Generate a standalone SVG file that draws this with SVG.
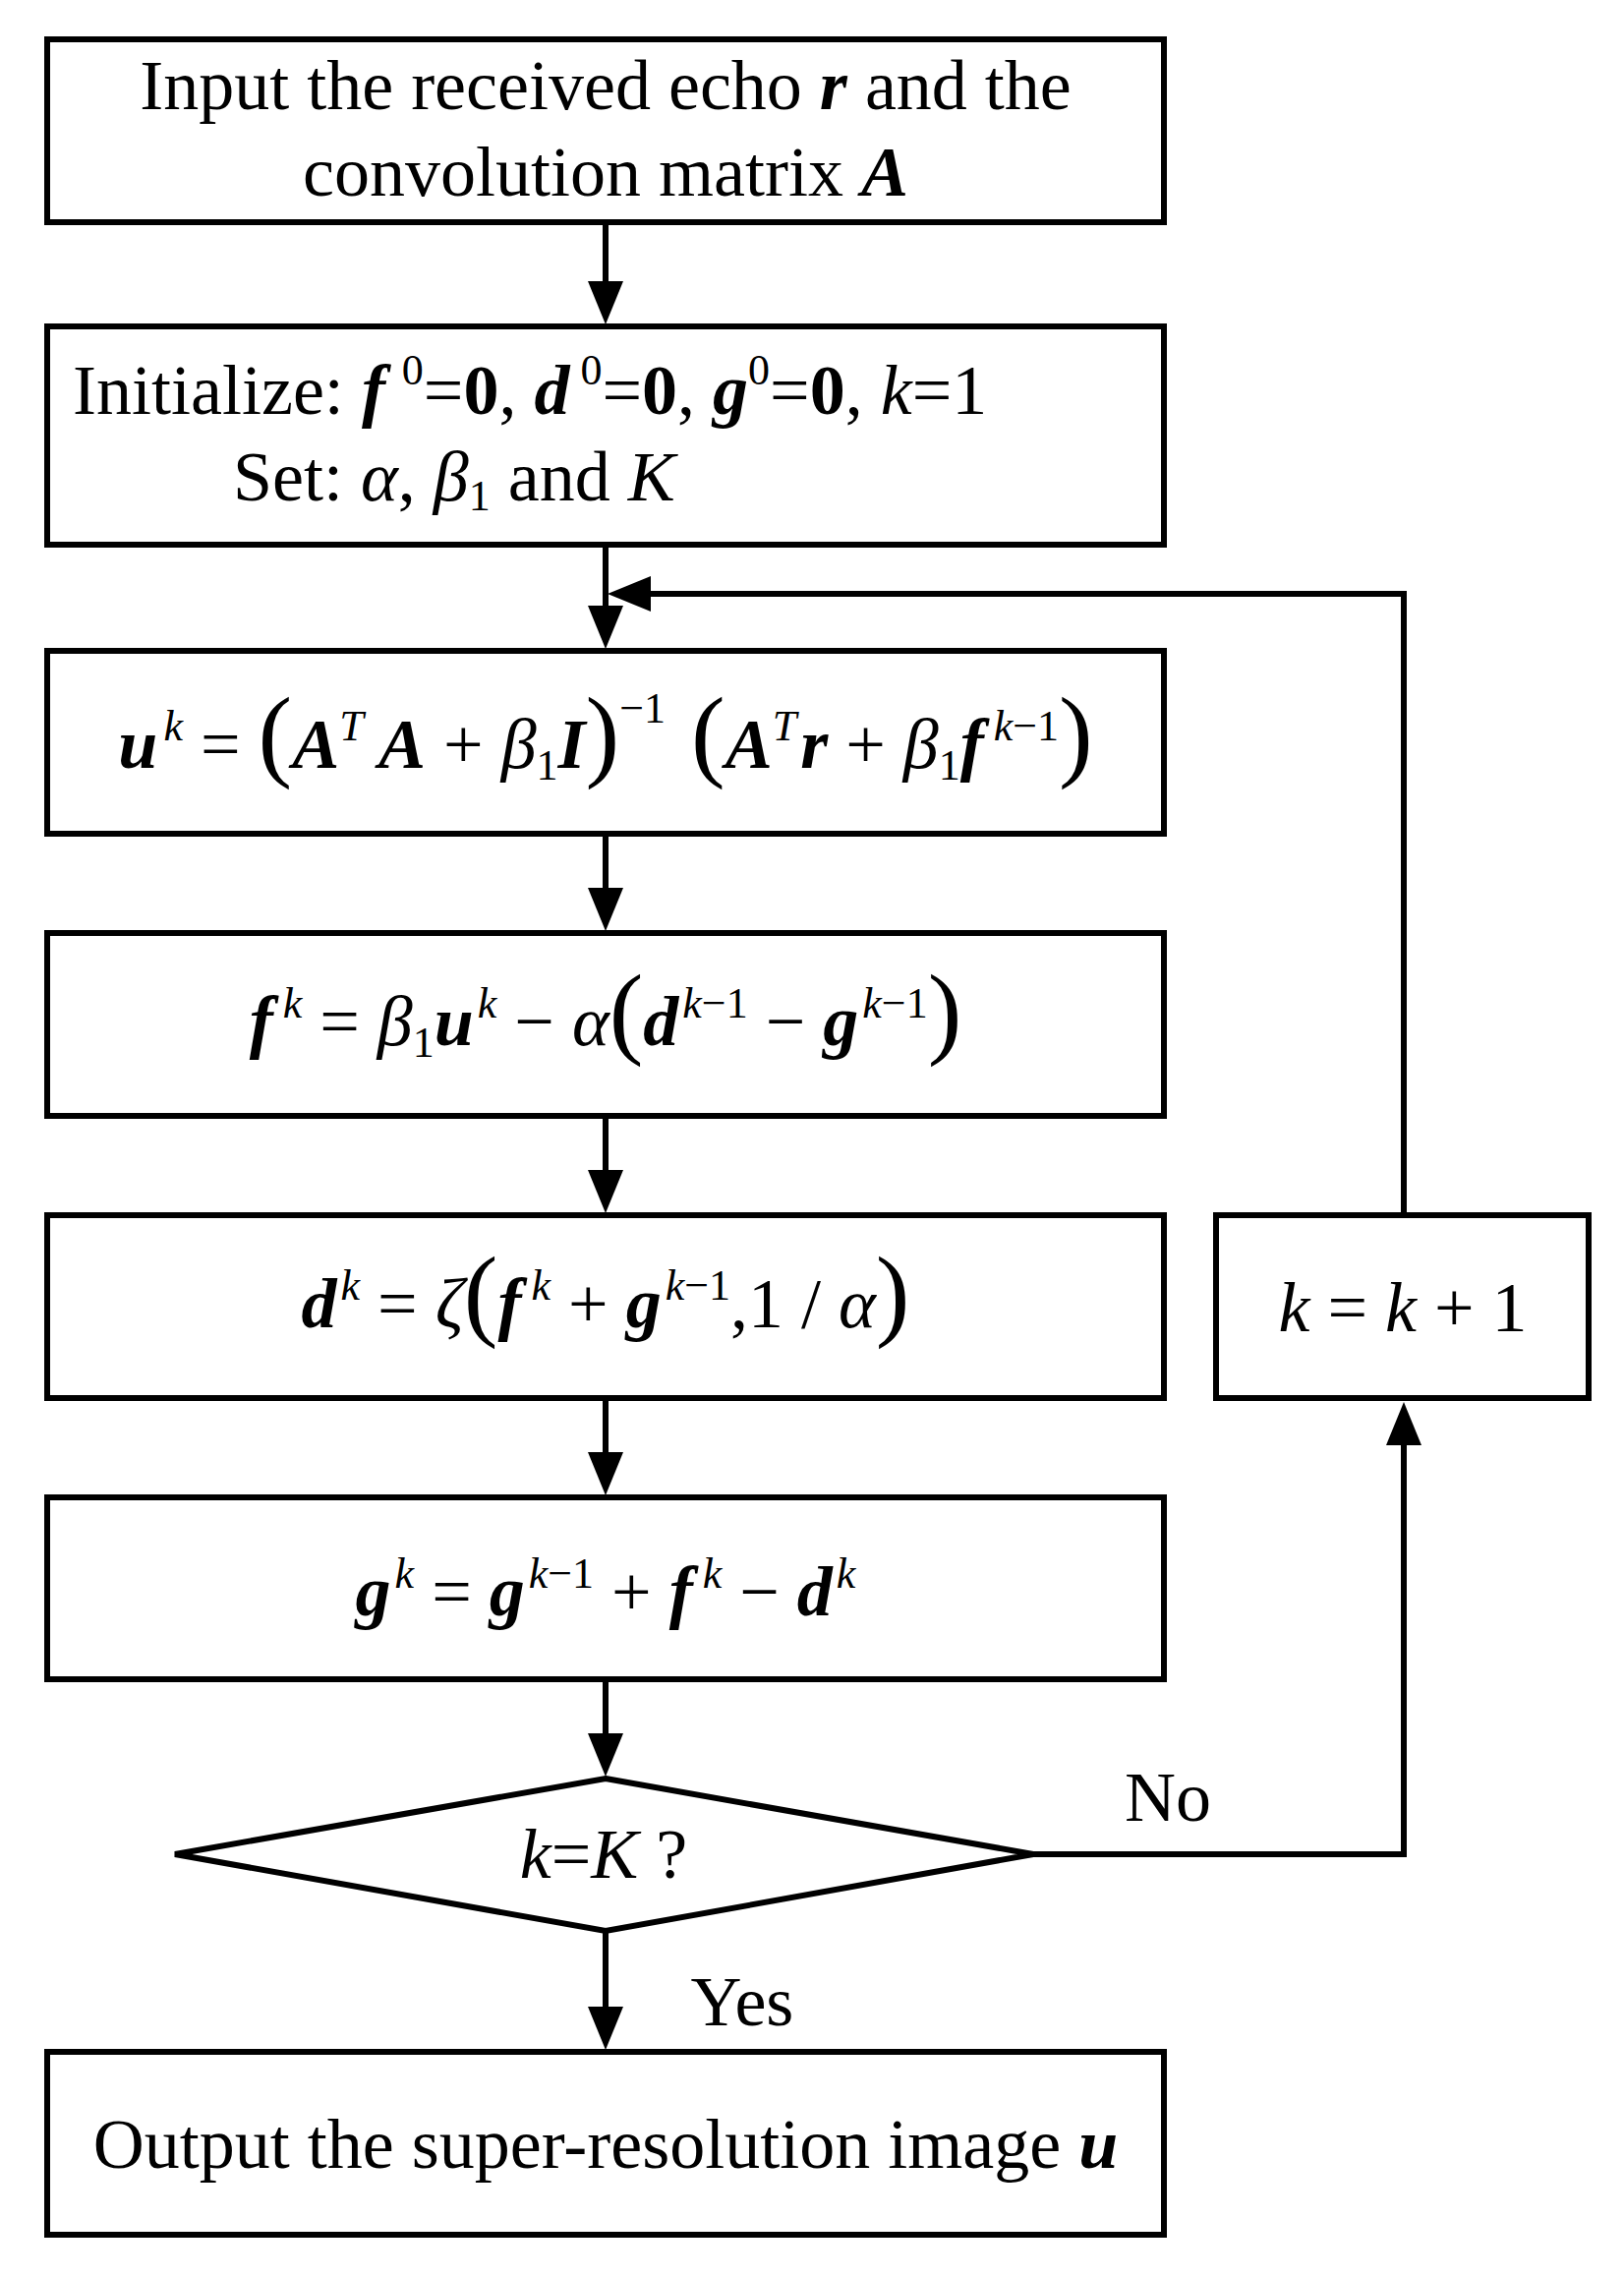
<svg xmlns="http://www.w3.org/2000/svg" width="1652" height="2316" viewBox="0 0 1652 2316">
<style>
.b{fill:#fff;stroke:#000;stroke-width:6}
.c{fill:none;stroke:#000;stroke-width:6}
text{font-family:"Liberation Serif","Times New Roman",serif;font-size:72px;fill:#000}
.t{text-anchor:middle}
.bi{font-weight:bold;font-style:italic}
.i{font-style:italic}
.b0{font-weight:bold}
.s{font-size:44px}
.p{font-size:104px}
</style>
<rect width="1652" height="2316" fill="#fff"/>
<g id="connectors">
<line class="c" x1="616" y1="226" x2="616" y2="288"/><path d="M598,286 L634,286 L616,330 z"/>
<line class="c" x1="616" y1="554" x2="616" y2="618"/><path d="M598,616 L634,616 L616,660 z"/>
<polyline class="c" points="1428,1236 1428,604 660,604"/><path d="M662,586 L662,622 L618,604 z"/>
<line class="c" x1="616" y1="848" x2="616" y2="905"/><path d="M598,903 L634,903 L616,947 z"/>
<line class="c" x1="616" y1="1135" x2="616" y2="1192"/><path d="M598,1190 L634,1190 L616,1234 z"/>
<line class="c" x1="616" y1="1422" x2="616" y2="1479"/><path d="M598,1477 L634,1477 L616,1521 z"/>
<line class="c" x1="616" y1="1708" x2="616" y2="1765"/><path d="M598,1763 L634,1763 L616,1807 z"/>
<polyline class="c" points="1051,1886 1428,1886 1428,1468"/><path d="M1410,1470 L1446,1470 L1428,1426 z"/>
<line class="c" x1="616" y1="1964" x2="616" y2="2043"/><path d="M598,2041 L634,2041 L616,2085 z"/>
<text x="1188" y="1852" class="t">No</text>
<text x="755" y="2060" class="t">Yes</text>
</g>
<g id="input"><rect class="b" x="48" y="40" width="1136" height="186"/>
<text x="616" y="111" class="t">Input the received echo <tspan class="bi">r</tspan> and the</text>
<text x="616" y="199" class="t">convolution matrix <tspan class="bi">A</tspan></text></g>
<g id="init"><rect class="b" x="48" y="332" width="1136" height="222"/>
<text x="74" y="421">Initialize:  <tspan class="bi">f</tspan><tspan class="s" dy="-30" dx="6"> 0</tspan><tspan dy="30">=</tspan><tspan class="b0">0</tspan>,  <tspan class="bi">d</tspan><tspan class="s" dy="-30"> 0</tspan><tspan dy="30">=</tspan><tspan class="b0">0</tspan>,  <tspan class="bi">g</tspan><tspan class="s" dy="-30">0</tspan><tspan dy="30">=</tspan><tspan class="b0">0</tspan>,  <tspan class="i">k</tspan>=1</text>
<text x="237" y="509">Set: <tspan class="i">α</tspan>, <tspan class="i">β</tspan><tspan class="s" dy="10">1</tspan><tspan dy="-10"> and </tspan><tspan class="i">K</tspan></text></g>
<g id="u"><rect class="b" x="48" y="662" width="1136" height="186"/>
<text x="616" y="781" class="t"><tspan class="bi">u</tspan><tspan class="s i" dy="-28" dx="6">k</tspan><tspan dy="28"> = </tspan><tspan class="p">(</tspan><tspan class="bi">A</tspan><tspan class="s i" dy="-28">T</tspan><tspan dy="28" class="bi"> A</tspan> + <tspan class="i">β</tspan><tspan class="s" dy="12">1</tspan><tspan class="bi" dy="-12">I</tspan><tspan class="p">)</tspan><tspan class="s" dy="-46">−1</tspan><tspan dy="46" class="p"> (</tspan><tspan class="bi">A</tspan><tspan class="s i" dy="-28">T</tspan><tspan dy="28" class="bi" dx="4">r</tspan> + <tspan class="i">β</tspan><tspan class="s" dy="12">1</tspan><tspan class="bi" dy="-12">f</tspan><tspan class="s" dy="-28" dx="10"><tspan class="i">k</tspan>−1</tspan><tspan dy="28" class="p">)</tspan></text></g>
<g id="f"><rect class="b" x="48" y="949" width="1136" height="186"/>
<text x="616" y="1063" class="t"><tspan class="bi">f</tspan><tspan class="s i" dy="-28" dx="10">k</tspan><tspan dy="28"> = </tspan><tspan class="i">β</tspan><tspan class="s" dy="12">1</tspan><tspan class="bi" dy="-12">u</tspan><tspan class="s i" dy="-28" dx="4">k</tspan><tspan dy="28"> − </tspan><tspan class="i">α</tspan><tspan class="p">(</tspan><tspan class="bi">d</tspan><tspan class="s" dy="-28" dx="4"><tspan class="i">k</tspan>−1</tspan><tspan dy="28"> − </tspan><tspan class="bi">g</tspan><tspan class="s" dy="-28" dx="4"><tspan class="i">k</tspan>−1</tspan><tspan dy="28" class="p">)</tspan></text></g>
<g id="d"><rect class="b" x="48" y="1236" width="1136" height="186"/>
<text x="616" y="1350" class="t"><tspan class="bi">d</tspan><tspan class="s i" dy="-28" dx="4">k</tspan><tspan dy="28"> = </tspan><tspan class="i">ζ</tspan><tspan class="p">(</tspan><tspan class="bi">f</tspan><tspan class="s i" dy="-28" dx="10">k</tspan><tspan dy="28"> + </tspan><tspan class="bi">g</tspan><tspan class="s" dy="-28" dx="4"><tspan class="i">k</tspan>−1</tspan><tspan dy="28">,1 / </tspan><tspan class="i">α</tspan><tspan class="p">)</tspan></text></g>
<g id="inc"><rect class="b" x="1237" y="1236" width="379" height="186"/>
<text x="1427" y="1354" class="t"><tspan class="i">k</tspan> = <tspan class="i">k</tspan> + 1</text></g>
<g id="g"><rect class="b" x="48" y="1523" width="1136" height="185"/>
<text x="616" y="1643" class="t"><tspan class="bi">g</tspan><tspan class="s i" dy="-28" dx="4">k</tspan><tspan dy="28"> = </tspan><tspan class="bi">g</tspan><tspan class="s" dy="-28" dx="4"><tspan class="i">k</tspan>−1</tspan><tspan dy="28"> + </tspan><tspan class="bi">f</tspan><tspan class="s i" dy="-28" dx="10">k</tspan><tspan dy="28"> − </tspan><tspan class="bi">d</tspan><tspan class="s i" dy="-28" dx="4">k</tspan></text></g>
<g id="decision"><polygon class="b" points="616,1809 1051,1886 616,1964 178,1886"/>
<text x="614" y="1910" class="t"><tspan class="i">k</tspan>=<tspan class="i">K</tspan> ?</text></g>
<g id="output"><rect class="b" x="48" y="2087" width="1136" height="186"/>
<text x="616" y="2205" class="t">Output the super-resolution image <tspan class="bi">u</tspan></text></g>
</svg>
